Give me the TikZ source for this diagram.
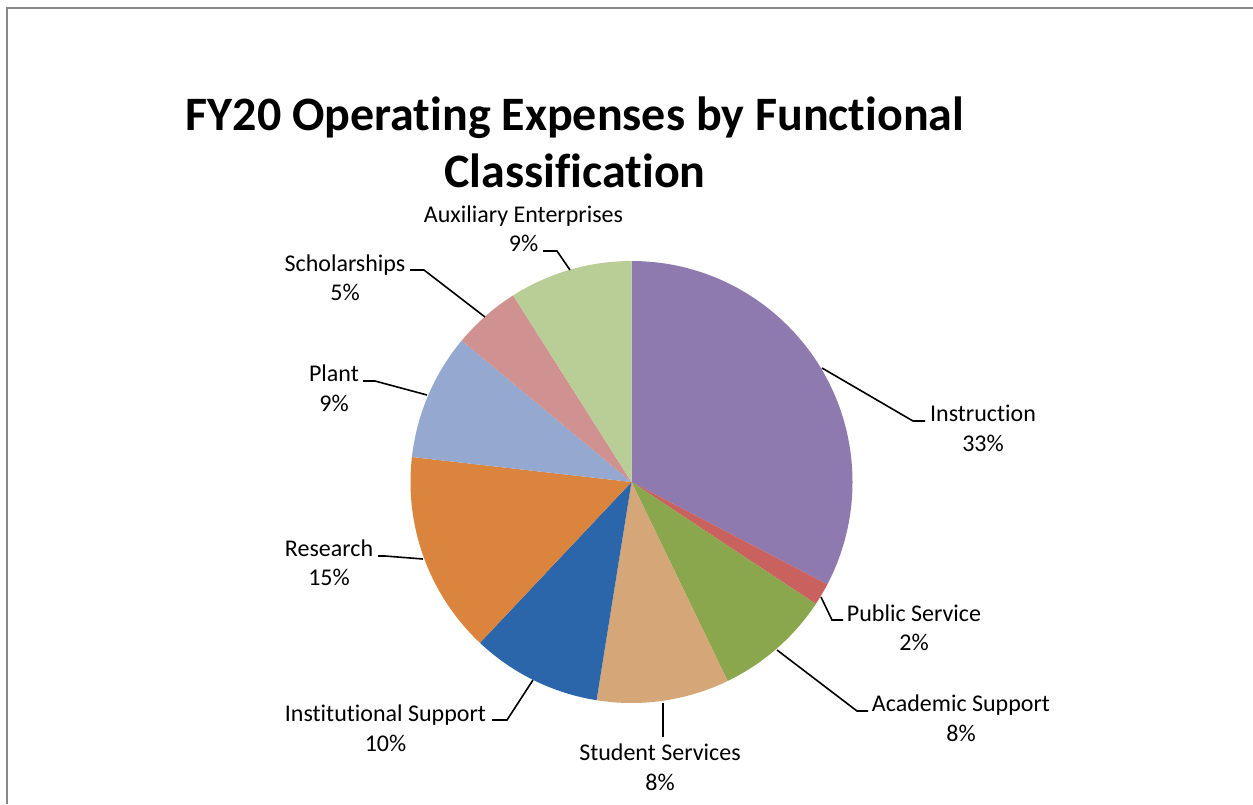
\documentclass[tikz,border=0pt]{standalone}
\usepackage{fontspec}
\setmainfont{Carlito}[Ligatures=CommonOff]
\definecolor{cInstr}{HTML}{8F7AAF}
\definecolor{cPub}{HTML}{C9625E}
\definecolor{cAcad}{HTML}{8AA74E}
\definecolor{cStud}{HTML}{D4A678}
\definecolor{cInst}{HTML}{2B65AA}
\definecolor{cRes}{HTML}{DB843D}
\definecolor{cPlant}{HTML}{94A8D0}
\definecolor{cSchol}{HTML}{D09291}
\definecolor{cAux}{HTML}{B9CD96}
\definecolor{frame}{HTML}{888888}
\tikzset{
  lbl/.style={align=center, inner sep=0pt, font=\fontsize{24}{29.5}\selectfont},
  leader/.style={draw=black, line width=1.6pt},
  ttl/.style={align=center, inner sep=0pt, font=\fontsize{48}{57}\selectfont\bfseries}
}
\newcommand{\slice}[3]{\fill[#3] (C) -- ++(#1:221) arc[start angle=#1, end angle=#2, radius=221] -- cycle;}
\begin{document}
\begin{tikzpicture}[x=1pt,y=-1pt]
\useasboundingbox (0,0) rectangle (1253,804);
\fill[white] (0,0) rectangle (1253,804);
\draw[frame, line width=2pt] (7,804) -- (7,7.5) -- (1253,7.5);
\coordinate (C) at (631.5,482);
\slice{-90}{27.6}{cInstr}
\slice{27.6}{33.5}{cPub}
\slice{33.5}{64.2}{cAcad}
\slice{64.2}{99.1}{cStud}
\slice{99.1}{133.3}{cInst}
\slice{133.3}{186.5}{cRes}
\slice{186.5}{219.8}{cPlant}
\slice{219.8}{237.6}{cSchol}
\slice{237.6}{270}{cAux}
\node[ttl] (title) at (575,142) {FY20 Operating Expenses by Functional\\Classification};
% labels
\node[lbl] (lInstr) at (983,428.5) {Instruction\\33\%};
\node[lbl] (lPub) at (914,628) {Public Service\\2\%};
\node[lbl] (lAcad) at (961,718.5) {Academic Support\\8\%};
\node[lbl] (lStud) at (660,767.5) {Student Services\\8\%};
\node[lbl] (lInst) at (385.5,728.5) {Institutional Support\\10\%};
\node[lbl] (lRes) at (329,563) {Research\\15\%};
\node[lbl] (lPlant) at (334,388.5) {Plant\\9\%};
\node[lbl] (lSchol) at (345,278) {Scholarships\\5\%};
\node[lbl] (lAux) at (523.5,229) {Auxiliary Enterprises\\9\%};
% leader points
\coordinate (pInstr) at (822,368); \coordinate (kInstr) at (913,421); \coordinate (eInstr) at (925,421);
\coordinate (pPub) at (821,597); \coordinate (kPub) at (832,620); \coordinate (ePub) at (843,620);
\coordinate (pAcad) at (777,650); \coordinate (kAcad) at (857,711); \coordinate (eAcad) at (868,711);
\coordinate (pStud) at (663,703); \coordinate (eStud) at (663,737);
\coordinate (pInst) at (533,680); \coordinate (kInst) at (507,720); \coordinate (eInst) at (492,720);
\coordinate (pRes) at (423,559); \coordinate (kRes) at (385,556); \coordinate (eRes) at (378,556);
\coordinate (pPlant) at (427,395); \coordinate (kPlant) at (375,381); \coordinate (ePlant) at (363,381);
\coordinate (pSchol) at (485,317); \coordinate (kSchol) at (424,270); \coordinate (eSchol) at (410,270);
\coordinate (pAux) at (570,270); \coordinate (kAux) at (557,251); \coordinate (eAux) at (543,251);
\draw[leader] (pInstr) -- (kInstr) -- (eInstr);
\draw[leader] (pPub) -- (kPub) -- (ePub);
\draw[leader] (pAcad) -- (kAcad) -- (eAcad);
\draw[leader] (pStud) -- (eStud);
\draw[leader] (pInst) -- (kInst) -- (eInst);
\draw[leader] (pRes) -- (kRes) -- (eRes);
\draw[leader] (pPlant) -- (kPlant) -- (ePlant);
\draw[leader] (pSchol) -- (kSchol) -- (eSchol);
\draw[leader] (pAux) -- (kAux) -- (eAux);
\end{tikzpicture}
\end{document}
